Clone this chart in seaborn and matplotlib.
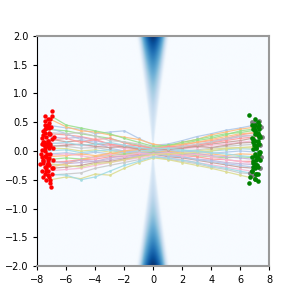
import numpy as np
import pandas as pd
import matplotlib
matplotlib.use("Agg")
import matplotlib.pyplot as plt
import seaborn as sns

# ---------------- data ----------------
X_GRID = [-6, -5, -4, -3, -2, -1, 0, 1, 2, 3, 4, 5, 6]

START_X = [-7.3, -7.1, -7.5, -7.2, -7.4, -7.0, -7.6, -7.3, -7.2, -7.5,
           -7.1, -7.4, -7.3, -7.6, -7.2, -7.0, -7.4, -7.3, -7.1, -7.5,
           -7.2, -7.4, -7.0, -7.3, -7.6, -7.1, -7.5, -7.2, -7.3, -7.4]
END_X = [7.0, 7.2, 6.9, 7.1, 7.3, 6.8, 7.0, 7.2, 7.1, 6.9,
         7.3, 7.0, 7.2, 6.9, 7.1, 7.0, 6.8, 7.2, 7.0, 7.1,
         6.9, 7.2, 7.0, 7.3, 7.1, 6.9, 7.0, 7.2, 7.1, 6.8]

# y values: start, 13 grid points, end
TRAJ_Y = [
    [0.45, 0.40, 0.38, 0.30, 0.33, 0.35, 0.22, 0.10, 0.12, 0.18, 0.25, 0.30, 0.36, 0.40, 0.45],
    [0.55, 0.42, 0.35, 0.33, 0.28, 0.24, 0.20, 0.12, 0.08, 0.15, 0.20, 0.28, 0.33, 0.38, 0.42],
    [0.38, 0.35, 0.30, 0.26, 0.22, 0.15, 0.10, 0.06, 0.10, 0.12, 0.18, 0.22, 0.28, 0.35, 0.38],
    [0.30, 0.28, 0.25, 0.20, 0.22, 0.14, 0.08, 0.04, 0.06, 0.10, 0.15, 0.18, 0.22, 0.28, 0.32],
    [0.25, 0.22, 0.24, 0.18, 0.12, 0.10, 0.05, 0.02, 0.04, 0.08, 0.10, 0.15, 0.20, 0.25, 0.28],
    [0.20, 0.16, 0.18, 0.12, 0.10, 0.06, 0.04, 0.00, 0.03, 0.05, 0.08, 0.12, 0.15, 0.18, 0.22],
    [0.15, 0.12, 0.10, 0.08, 0.10, 0.04, 0.02, -0.02, 0.00, 0.04, 0.06, 0.10, 0.12, 0.15, 0.18],
    [0.10, 0.08, 0.05, 0.06, 0.02, 0.00, 0.01, -0.01, -0.03, 0.00, 0.02, 0.05, 0.08, 0.10, 0.12],
    [0.05, 0.04, 0.00, 0.02, -0.02, 0.00, -0.03, 0.02, 0.00, -0.02, 0.00, 0.03, 0.05, 0.06, 0.08],
    [0.00, 0.02, -0.03, 0.00, 0.02, -0.04, 0.00, 0.01, -0.02, 0.02, -0.03, 0.00, 0.02, 0.04, 0.03],
    [-0.05, -0.03, -0.06, -0.02, -0.05, -0.02, -0.04, 0.00, 0.02, -0.02, 0.00, -0.04, -0.02, 0.00, -0.02],
    [-0.10, -0.08, -0.05, -0.08, -0.04, -0.06, -0.02, -0.03, 0.00, -0.04, -0.06, -0.05, -0.08, -0.05, -0.06],
    [-0.15, -0.12, -0.14, -0.10, -0.08, -0.05, -0.06, -0.02, -0.04, -0.06, -0.08, -0.10, -0.12, -0.10, -0.12],
    [-0.20, -0.18, -0.15, -0.14, -0.10, -0.10, -0.05, -0.04, -0.06, -0.08, -0.10, -0.14, -0.15, -0.18, -0.18],
    [-0.25, -0.22, -0.20, -0.18, -0.15, -0.12, -0.08, -0.06, -0.08, -0.10, -0.14, -0.16, -0.20, -0.22, -0.24],
    [-0.30, -0.28, -0.25, -0.20, -0.18, -0.14, -0.10, -0.05, -0.10, -0.12, -0.16, -0.20, -0.24, -0.28, -0.30],
    [-0.35, -0.32, -0.30, -0.25, -0.20, -0.16, -0.12, -0.08, -0.12, -0.15, -0.20, -0.24, -0.28, -0.32, -0.35],
    [-0.42, -0.40, -0.38, -0.30, -0.25, -0.20, -0.15, -0.10, -0.14, -0.18, -0.22, -0.28, -0.32, -0.38, -0.40],
    [-0.50, -0.45, -0.48, -0.40, -0.42, -0.30, -0.20, -0.12, -0.15, -0.20, -0.25, -0.30, -0.36, -0.42, -0.48],
    [-0.40, -0.42, -0.50, -0.45, -0.35, -0.25, -0.18, -0.10, -0.12, -0.16, -0.20, -0.26, -0.30, -0.35, -0.40],
    [0.40, 0.30, 0.20, 0.15, 0.05, 0.00, -0.02, -0.05, -0.08, -0.10, -0.15, -0.18, -0.22, -0.25, -0.28],
    [-0.30, -0.22, -0.15, -0.10, -0.05, 0.00, 0.03, 0.05, 0.08, 0.12, 0.15, 0.20, 0.25, 0.30, 0.32],
    [0.60, 0.45, 0.40, 0.35, 0.30, 0.22, 0.15, 0.08, 0.10, 0.15, 0.20, 0.25, 0.30, 0.32, 0.36],
    [0.18, 0.22, 0.15, 0.20, 0.12, 0.08, 0.10, 0.04, 0.08, 0.06, 0.10, 0.14, 0.18, 0.22, 0.25],
    [-0.18, -0.20, -0.16, -0.18, -0.12, -0.08, -0.08, -0.04, -0.02, -0.06, -0.04, -0.08, -0.10, -0.12, -0.15],
    [0.08, 0.10, 0.12, 0.08, 0.06, 0.08, 0.03, 0.05, 0.02, 0.05, 0.08, 0.06, 0.10, 0.14, 0.15],
    [-0.08, -0.05, -0.08, -0.12, -0.06, -0.08, -0.04, -0.06, -0.03, -0.08, -0.06, -0.10, -0.15, -0.18, -0.22],
    [0.32, 0.30, 0.32, 0.26, 0.18, 0.16, 0.12, 0.06, 0.04, 0.08, 0.12, 0.16, 0.22, 0.26, 0.28],
    [-0.22, -0.25, -0.28, -0.22, -0.20, -0.15, -0.10, -0.06, -0.05, -0.04, -0.02, 0.00, 0.04, 0.06, 0.05],
    [0.12, 0.15, 0.10, 0.12, 0.15, 0.10, 0.06, 0.03, 0.05, 0.02, 0.00, -0.03, -0.05, -0.08, -0.10],
]

RED_EXTRA_X = [-7.5, -7.2, -7.0, -7.4, -7.6, -7.1, -7.7, -7.3, -7.55, -7.45, -7.8, -7.65,
               -7.35, -7.2, -7.5, -7.25, -7.0, -7.6, -7.4, -7.1, -7.05, -6.9, -6.85, -7.7,
               -7.75, -7.15, -7.05, -7.6, -7.3, -6.95, -7.45, -7.3, -7.65, -7.2, -7.5, -6.9,
               -7.55, -7.35, -7.6, -7.45, -7.25, -7.7]
RED_EXTRA_Y = [0.52, 0.48, 0.70, 0.40, 0.35, 0.30, 0.22, 0.18, 0.10, 0.05, -0.22, -0.10,
               -0.05, -0.12, -0.28, -0.35, -0.40, -0.45, -0.50, -0.55, -0.62, -0.30, 0.25, 0.02,
               -0.05, 0.12, 0.42, 0.28, -0.20, -0.15, 0.60, 0.55, -0.35, -0.45, 0.45, 0.05,
               0.15, -0.25, -0.15, 0.32, 0.08, 0.12]

GREEN_EXTRA_X = [6.6, 7.0, 7.2, 6.8, 7.3, 7.0, 7.4, 6.9, 7.3, 7.1, 7.4, 7.0, 7.35,
                 6.9, 7.2, 6.8, 7.1, 6.7, 7.0, 6.6, 7.2, 7.3, 6.95, 7.15, 7.25,
                 7.05, 7.3, 7.15, 6.95]
GREEN_EXTRA_Y = [0.62, 0.55, 0.50, 0.45, 0.38, 0.30, 0.25, 0.20, 0.12, 0.05, -0.02, -0.08, -0.15,
                 -0.20, -0.28, -0.35, -0.40, -0.45, -0.48, -0.55, -0.52, 0.45, 0.40, -0.10, 0.18,
                 0.35, -0.05, -0.25, 0.10]

GREY_X = [7.3, 7.45, 7.4, 7.35, 6.9, 6.7, 7.05, 6.8, 7.5, 7.45]
GREY_Y = [0.52, 0.42, 0.10, -0.30, -0.42, -0.38, 0.48, 0.50, 0.25, -0.10]

# background density parameters
CONE_HALF_WIDTH = 0.42   # half-width of the cone per unit |y|
CONE_FLOOR = 0.16
X_LIM = (-8, 8)
Y_LIM = (-2, 2)

# ---------------- build frames ----------------
rows = []
for i, ys in enumerate(TRAJ_Y):
    xs = [START_X[i]] + X_GRID + [END_X[i]]
    for j, (xv, yv) in enumerate(zip(xs, ys)):
        rows.append({"line": i, "order": j, "x": xv, "y": yv})
traj = pd.DataFrame(rows)

red = pd.DataFrame({
    "x": START_X + RED_EXTRA_X,
    "y": [r[0] for r in TRAJ_Y] + RED_EXTRA_Y,
})
green = pd.DataFrame({
    "x": END_X + GREEN_EXTRA_X,
    "y": [r[-1] for r in TRAJ_Y] + GREEN_EXTRA_Y,
})
grey = pd.DataFrame({"x": GREY_X, "y": GREY_Y})

# ---------------- plot ----------------
fig, ax = plt.subplots(figsize=(2.99, 2.99), dpi=100)

gx = np.linspace(X_LIM[0], X_LIM[1], 600)
gy = np.linspace(Y_LIM[0], Y_LIM[1], 300)
GX, GY = np.meshgrid(gx, gy)
w = CONE_HALF_WIDTH * np.abs(GY) + 1e-3
r = GX / w
envelope = np.exp(-0.5 * r ** 6)
core = 0.45 + 0.55 * np.exp(-0.5 * (r / 0.55) ** 2)
amp = CONE_FLOOR + (1 - CONE_FLOOR) * (np.abs(GY) / 2.0) ** 2.2
field = amp * envelope * core
ax.imshow(field, extent=[X_LIM[0], X_LIM[1], Y_LIM[0], Y_LIM[1]], origin="lower",
          cmap="Blues", vmin=0, vmax=1, aspect="auto", interpolation="bilinear", zorder=0)

light_tab20 = [plt.cm.tab20(k) for k in range(1, 20, 2)]
palette = [light_tab20[i % len(light_tab20)] for i in range(len(TRAJ_Y))]
sns.lineplot(data=traj, x="x", y="y", hue="line", units="line", estimator=None,
             sort=False, palette=palette, legend=False, ax=ax, lw=0.9, alpha=0.85,
             marker="o", markersize=2, markeredgewidth=0, zorder=2)

sns.scatterplot(data=red, x="x", y="y", color="red", s=10, linewidth=0,
                ax=ax, zorder=3, legend=False)
sns.scatterplot(data=grey, x="x", y="y", color="grey", s=12, linewidth=0,
                ax=ax, zorder=3, legend=False)
sns.scatterplot(data=green, x="x", y="y", color="green", s=11, linewidth=0,
                ax=ax, zorder=4, legend=False)

ax.set_xlim(*X_LIM)
ax.set_ylim(*Y_LIM)
ax.set_xticks([-8, -6, -4, -2, 0, 2, 4, 6, 8])
ax.set_yticks([-2.0, -1.5, -1.0, -0.5, 0.0, 0.5, 1.0, 1.5, 2.0])
ax.set_xlabel("")
ax.set_ylabel("")
ax.tick_params(labelsize=7, length=3)
for side in ["top", "right", "bottom"]:
    ax.spines[side].set_color("#999999")
    ax.spines[side].set_linewidth(1.5)
ax.spines["left"].set_color("black")

fig.savefig("out.png", dpi=100)
